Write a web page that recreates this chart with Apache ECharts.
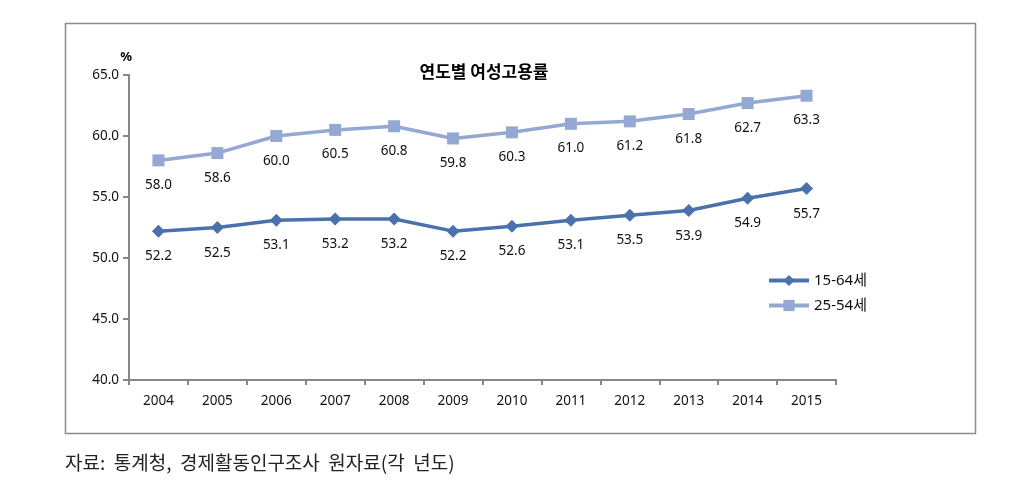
<!DOCTYPE html>
<html><head><meta charset="utf-8">
<script src="https://cdn.jsdelivr.net/npm/echarts@6/dist/echarts.min.js"></script>
<style>html,body{margin:0;padding:0;background:#fff}#c{width:1013px;height:480px}</style>
</head><body><div id="c"></div>
<script>
const years = ['2004','2005','2006','2007','2008','2009','2010','2011','2012','2013','2014','2015'];
const age1564 = [52.2,52.5,53.1,53.2,53.2,52.2,52.6,53.1,53.5,53.9,54.9,55.7];
const age2554 = [58.0,58.6,60.0,60.5,60.8,59.8,60.3,61.0,61.2,61.8,62.7,63.3];
const seriesNames = ['15-64세','25-54세'];
const yTicks = {min:40, max:65, interval:5};

const font = '"Noto Sans", "Noto Sans CJK KR", sans-serif';
const chart = echarts.init(document.getElementById('c'));
const lbl = {show:true, position:'bottom', distance:12, color:'#111', fontSize:13.5, fontFamily:font, formatter:p=>p.value.toFixed(1)};
chart.setOption({
  animation:false,
  graphic:[
    {type:'rect', shape:{x:65.5,y:23.5,width:910,height:410}, style:{fill:'none', stroke:'#8c8c8c', lineWidth:1.5}},
    {type:'text', style:{text:'연도별 여성고용률', x:484, y:72, textAlign:'center', textVerticalAlign:'middle', font:'bold 17px "Noto Sans CJK KR", sans-serif', fill:'#000'}},
    {type:'text', style:{text:'%', x:126, y:57, textAlign:'center', textVerticalAlign:'middle', font:'bold 13px "Noto Sans", sans-serif', fill:'#000'}},
    {type:'text', style:{text:'자료:  통계청,  경제활동인구조사  원자료(각  년도)', x:65, y:463, textVerticalAlign:'middle', font:'19px "Noto Sans CJK KR", sans-serif', fill:'#222'}}
  ],
  grid:{left:129, right:177, top:75, bottom:100, containLabel:false},
  legend:{
    orient:'vertical', left:762, top:268, itemGap:10, itemWidth:40, itemHeight:14,
    textStyle:{fontSize:15, fontFamily:font, color:'#111'},
    lineStyle:{width:4},
    data:seriesNames
  },
  xAxis:{type:'category', data:years, boundaryGap:true,
    axisLine:{lineStyle:{color:'#868686', width:2}},
    axisTick:{show:true, alignWithLabel:false, length:5, lineStyle:{color:'#868686', width:2}},
    axisLabel:{color:'#111', fontSize:13.5, fontFamily:font, margin:14}},
  yAxis:{type:'value', min:yTicks.min, max:yTicks.max, interval:yTicks.interval,
    splitLine:{show:false},
    axisLine:{show:true, lineStyle:{color:'#868686', width:2}},
    axisTick:{show:true, length:6, lineStyle:{color:'#868686', width:2}},
    axisLabel:{color:'#111', fontSize:13.5, fontFamily:font, margin:10, formatter:v=>v.toFixed(1)}},
  series:[
    {name:seriesNames[0], type:'line', data:age1564, symbol:'diamond', symbolSize:13,
      lineStyle:{color:'#4a71ab', width:3.5}, itemStyle:{color:'#4a71ab'}, label:lbl},
    {name:seriesNames[1], type:'line', data:age2554, symbol:'rect', symbolSize:12,
      lineStyle:{color:'#93a9d3', width:3.5}, itemStyle:{color:'#93a9d3'}, label:lbl}
  ]
});
</script></body></html>
